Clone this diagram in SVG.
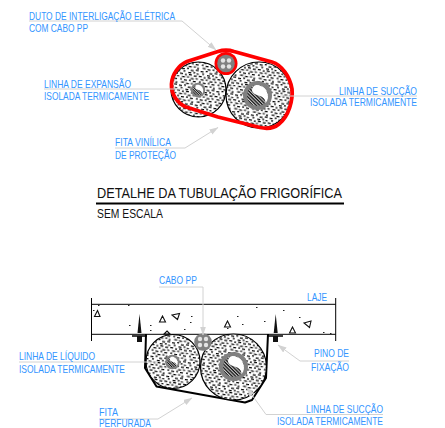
<svg xmlns="http://www.w3.org/2000/svg" xmlns:xlink="http://www.w3.org/1999/xlink" width="445" height="428" viewBox="0 0 445 428">
<style>
text{font-family:"Liberation Sans",Arial,sans-serif}
.l{font-size:10.8px;fill:#3395ff}
.t{fill:#111}
.ld{fill:none;stroke:#d2d2d2;stroke-width:1}
.ins{fill:url(#sp);stroke:#000;stroke-width:1.2}
.blk{fill:none;stroke:#000}
.tri{fill:none;stroke:#111;stroke-width:1.1}
.d{fill:#222}
</style>
<defs>
<pattern id="sp" width="19" height="17" patternUnits="userSpaceOnUse" patternTransform="rotate(10)">
<rect width="19" height="17" fill="#fff"/>
<path d="M1 1.500h3M6 .5h2M10 2h3M15 1h3M3 3.800h2M8 4.500h3M13 3.800h2M16.500 4.500h2M0 6.500h3M5 7h2M9 6.500h3M14 7h3M2.500 9.500h3M7.500 9h2M11.500 10h3M16.500 9.500h2M1 12h2M5 12.500h3M10 12h2M14 12.500h3M2.500 15h3M7.500 15.500h3M12.500 15h2M16 16h2" stroke="#000" stroke-width="1.250" fill="none"/>
</pattern>
<pattern id="ha" width="2.4" height="2.4" patternUnits="userSpaceOnUse" patternTransform="rotate(45)">
<rect width="2.4" height="2.4" fill="#ccc"/><rect width="2.4" height="1.3" fill="#111"/>
</pattern>
<marker id="ar" markerWidth="9" markerHeight="7" refX="8.500" refY="3" orient="auto" markerUnits="userSpaceOnUse">
<path d="M0 0L9 3L0 6Z" fill="#d2d2d2"/>
</marker>
<g id="core">
<circle r="14.500" fill="#808080"/>
<circle r="10.500" fill="url(#ha)"/>
<path d="M-2-10.300C4-11.500 10.500-6 10.500 1C10.500 4 9.500 6 8 7.500C8 3 5 1 1 0C-3-1-5.500-3-5.500-5.500C-5.500-8-4-9.500-2-10.300Z" fill="#fff"/>
</g>
<g id="duct">
<circle r="8.800" fill="#808080"/>
<g fill="#e4e4e4"><circle cx="-3" cy="-3" r="2.200"/><circle cx="3" cy="-3" r="2.200"/><circle cx="-3" cy="3" r="2.200"/><circle cx="3" cy="3" r="2.200"/></g>
</g>
</defs>
<rect width="445" height="428" fill="#fff"/>

<g id="node-top-insulation-left"><circle class="ins" cx="198.500" cy="89.500" r="27.500"/><use xlink:href="#core" transform="translate(198 90) scale(.5)"/></g>
<g id="node-top-insulation-right"><circle class="ins" cx="259" cy="95" r="33"/><use xlink:href="#core" transform="translate(257.500 95.500)"/></g>
<g id="node-top-tape"><path d="M171.500 84C172 74 179 65 187 61.500L218 51.500Q226 49 234 51.500L272 62C282 65 290 77 292 89C293 100 289 116 279 124Q272 130 260 127.500L218 117L186 107C177 103 171 94 171.500 84Z" fill="none" stroke="#f00" stroke-width="3.800" stroke-linejoin="round"/></g>
<g id="node-top-duct"><circle cx="226" cy="63.500" r="11.500" fill="#f00"/><use xlink:href="#duct" transform="translate(226 63.500)"/></g>

<g id="node-title">
<text class="t" x="97" y="198" font-size="15.500" textLength="245" lengthAdjust="spacingAndGlyphs">DETALHE DA TUBULAÇÃO FRIGORÍFICA</text>
<path d="M96 203.500H344" stroke="#000" stroke-width="2"/>
<text class="t" x="97" y="218" font-size="12.500" textLength="66" lengthAdjust="spacingAndGlyphs">SEM ESCALA</text>
</g>

<g id="node-slab">
<path class="blk" d="M91.500 304.300H335.700M91.500 334.300H335.700M91.500 298V341M335.700 298V341" stroke-width="1"/>
<path class="tri" d="M97.500 310.500L100 316.500H94.500ZM162.500 316L165.500 322H159.500ZM172 315L179.500 313.500L177.500 319.500ZM227.500 321L230.500 327H224.500ZM292.500 327L295.500 333H289.500ZM304 323L311 321L309.500 327.500ZM167 331L170 334H164Z"/>
<g class="d"><rect x="98" y="305" width="1.500" height="1"/><rect x="128" y="305" width="1.500" height="1"/><rect x="93" y="310" width="1.500" height="1"/><rect x="129" y="325" width="1.500" height="1"/><rect x="150" y="330" width="1.500" height="1"/><rect x="150" y="325" width="1.500" height="1"/><rect x="191" y="316" width="1.500" height="1"/><rect x="190" y="322" width="1.500" height="1"/><rect x="184" y="329" width="1.500" height="1"/><rect x="237" y="316" width="1.500" height="1"/><rect x="242" y="324" width="1.500" height="1"/><rect x="256" y="307" width="1.500" height="1"/><rect x="264" y="321" width="1.500" height="1"/><rect x="283" y="310" width="1.500" height="1"/><rect x="299" y="317" width="1.500" height="1"/><rect x="323" y="332" width="1.500" height="1"/><rect x="330" y="333" width="1.500" height="1"/><rect x="227" y="328" width="1.500" height="1"/></g>
</g>
<g id="node-pin-left"><path d="M139.500 314L141.500 333H137.500Z" fill="#111"/><path d="M132 336H147" stroke="#000" stroke-width="1.500"/><rect x="137" y="336" width="5" height="6" fill="#111"/></g>
<g id="node-pin-right"><path d="M275.700 314L277.700 333H273.700Z" fill="#111"/><path d="M268 336H283" stroke="#000" stroke-width="1.500"/><rect x="273" y="336" width="5" height="6" fill="#111"/></g>

<g id="node-bottom-tape"><path d="M146 334L145 368L156.500 386.500L245 402.500L252 400L266 378L268 334" fill="none" stroke="#000" stroke-width="2" stroke-linejoin="round"/></g>
<g id="node-bottom-insulation-left"><circle class="ins" cx="173" cy="361.500" r="27"/><use xlink:href="#core" transform="translate(172.500 362) scale(.5)"/></g>
<g id="node-bottom-insulation-right"><circle class="ins" cx="233.500" cy="367" r="33"/><use xlink:href="#core" transform="translate(233.500 366.500)"/></g>
<g id="node-bottom-duct"><use xlink:href="#duct" transform="translate(203 342)"/></g>

<g id="connectors">
<path class="ld" marker-end="url(#ar)" d="M29 21H182L216 50"/>
<path class="ld" d="M44 89H184"/>
<path class="ld" marker-end="url(#ar)" d="M115 148H185L218 127.500"/>
<path class="ld" d="M417 96H280"/>
<path class="ld" marker-end="url(#ar)" d="M159 287H203V335"/>
<path class="ld" d="M19 362H158"/>
<path class="ld" marker-end="url(#ar)" d="M99 419H158L192 398"/>
<path class="ld" marker-end="url(#ar)" d="M349 361H300L278 345"/>
<path class="ld" marker-end="url(#ar)" d="M383 414.500H266L247 388"/>
</g>

<g id="labels">
<text class="l" x="29" y="20" textLength="146" lengthAdjust="spacingAndGlyphs">DUTO DE INTERLIGAÇÃO ELÉTRICA</text>
<text class="l" x="29" y="32" textLength="59" lengthAdjust="spacingAndGlyphs">COM CABO PP</text>
<text class="l" x="44" y="88" textLength="87" lengthAdjust="spacingAndGlyphs">LINHA DE EXPANSÃO</text>
<text class="l" x="44" y="100" textLength="105" lengthAdjust="spacingAndGlyphs">ISOLADA TERMICAMENTE</text>
<text class="l" x="115" y="146" textLength="56" lengthAdjust="spacingAndGlyphs">FITA VINÍLICA</text>
<text class="l" x="115" y="159" textLength="61" lengthAdjust="spacingAndGlyphs">DE PROTEÇÃO</text>
<text class="l" x="339" y="95" textLength="78" lengthAdjust="spacingAndGlyphs">LINHA DE SUCÇÃO</text>
<text class="l" x="310" y="106" textLength="107" lengthAdjust="spacingAndGlyphs">ISOLADA TERMICAMENTE</text>
<text class="l" x="159" y="284" textLength="38" lengthAdjust="spacingAndGlyphs">CABO PP</text>
<text class="l" x="307" y="301" textLength="20" lengthAdjust="spacingAndGlyphs">LAJE</text>
<text class="l" x="19" y="360" textLength="76" lengthAdjust="spacingAndGlyphs">LINHA DE LÍQUIDO</text>
<text class="l" x="19" y="373" textLength="106" lengthAdjust="spacingAndGlyphs">ISOLADA TERMICAMENTE</text>
<text class="l" x="314" y="357" textLength="35" lengthAdjust="spacingAndGlyphs">PINO DE</text>
<text class="l" x="311" y="371" textLength="38" lengthAdjust="spacingAndGlyphs">FIXAÇÃO</text>
<text class="l" x="99" y="416" textLength="19" lengthAdjust="spacingAndGlyphs">FITA</text>
<text class="l" x="99" y="427" textLength="52" lengthAdjust="spacingAndGlyphs">PERFURADA</text>
<text class="l" x="306" y="413" textLength="77" lengthAdjust="spacingAndGlyphs">LINHA DE SUCÇÃO</text>
<text class="l" x="277" y="425" textLength="106" lengthAdjust="spacingAndGlyphs">ISOLADA TERMICAMENTE</text>
</g>
</svg>
